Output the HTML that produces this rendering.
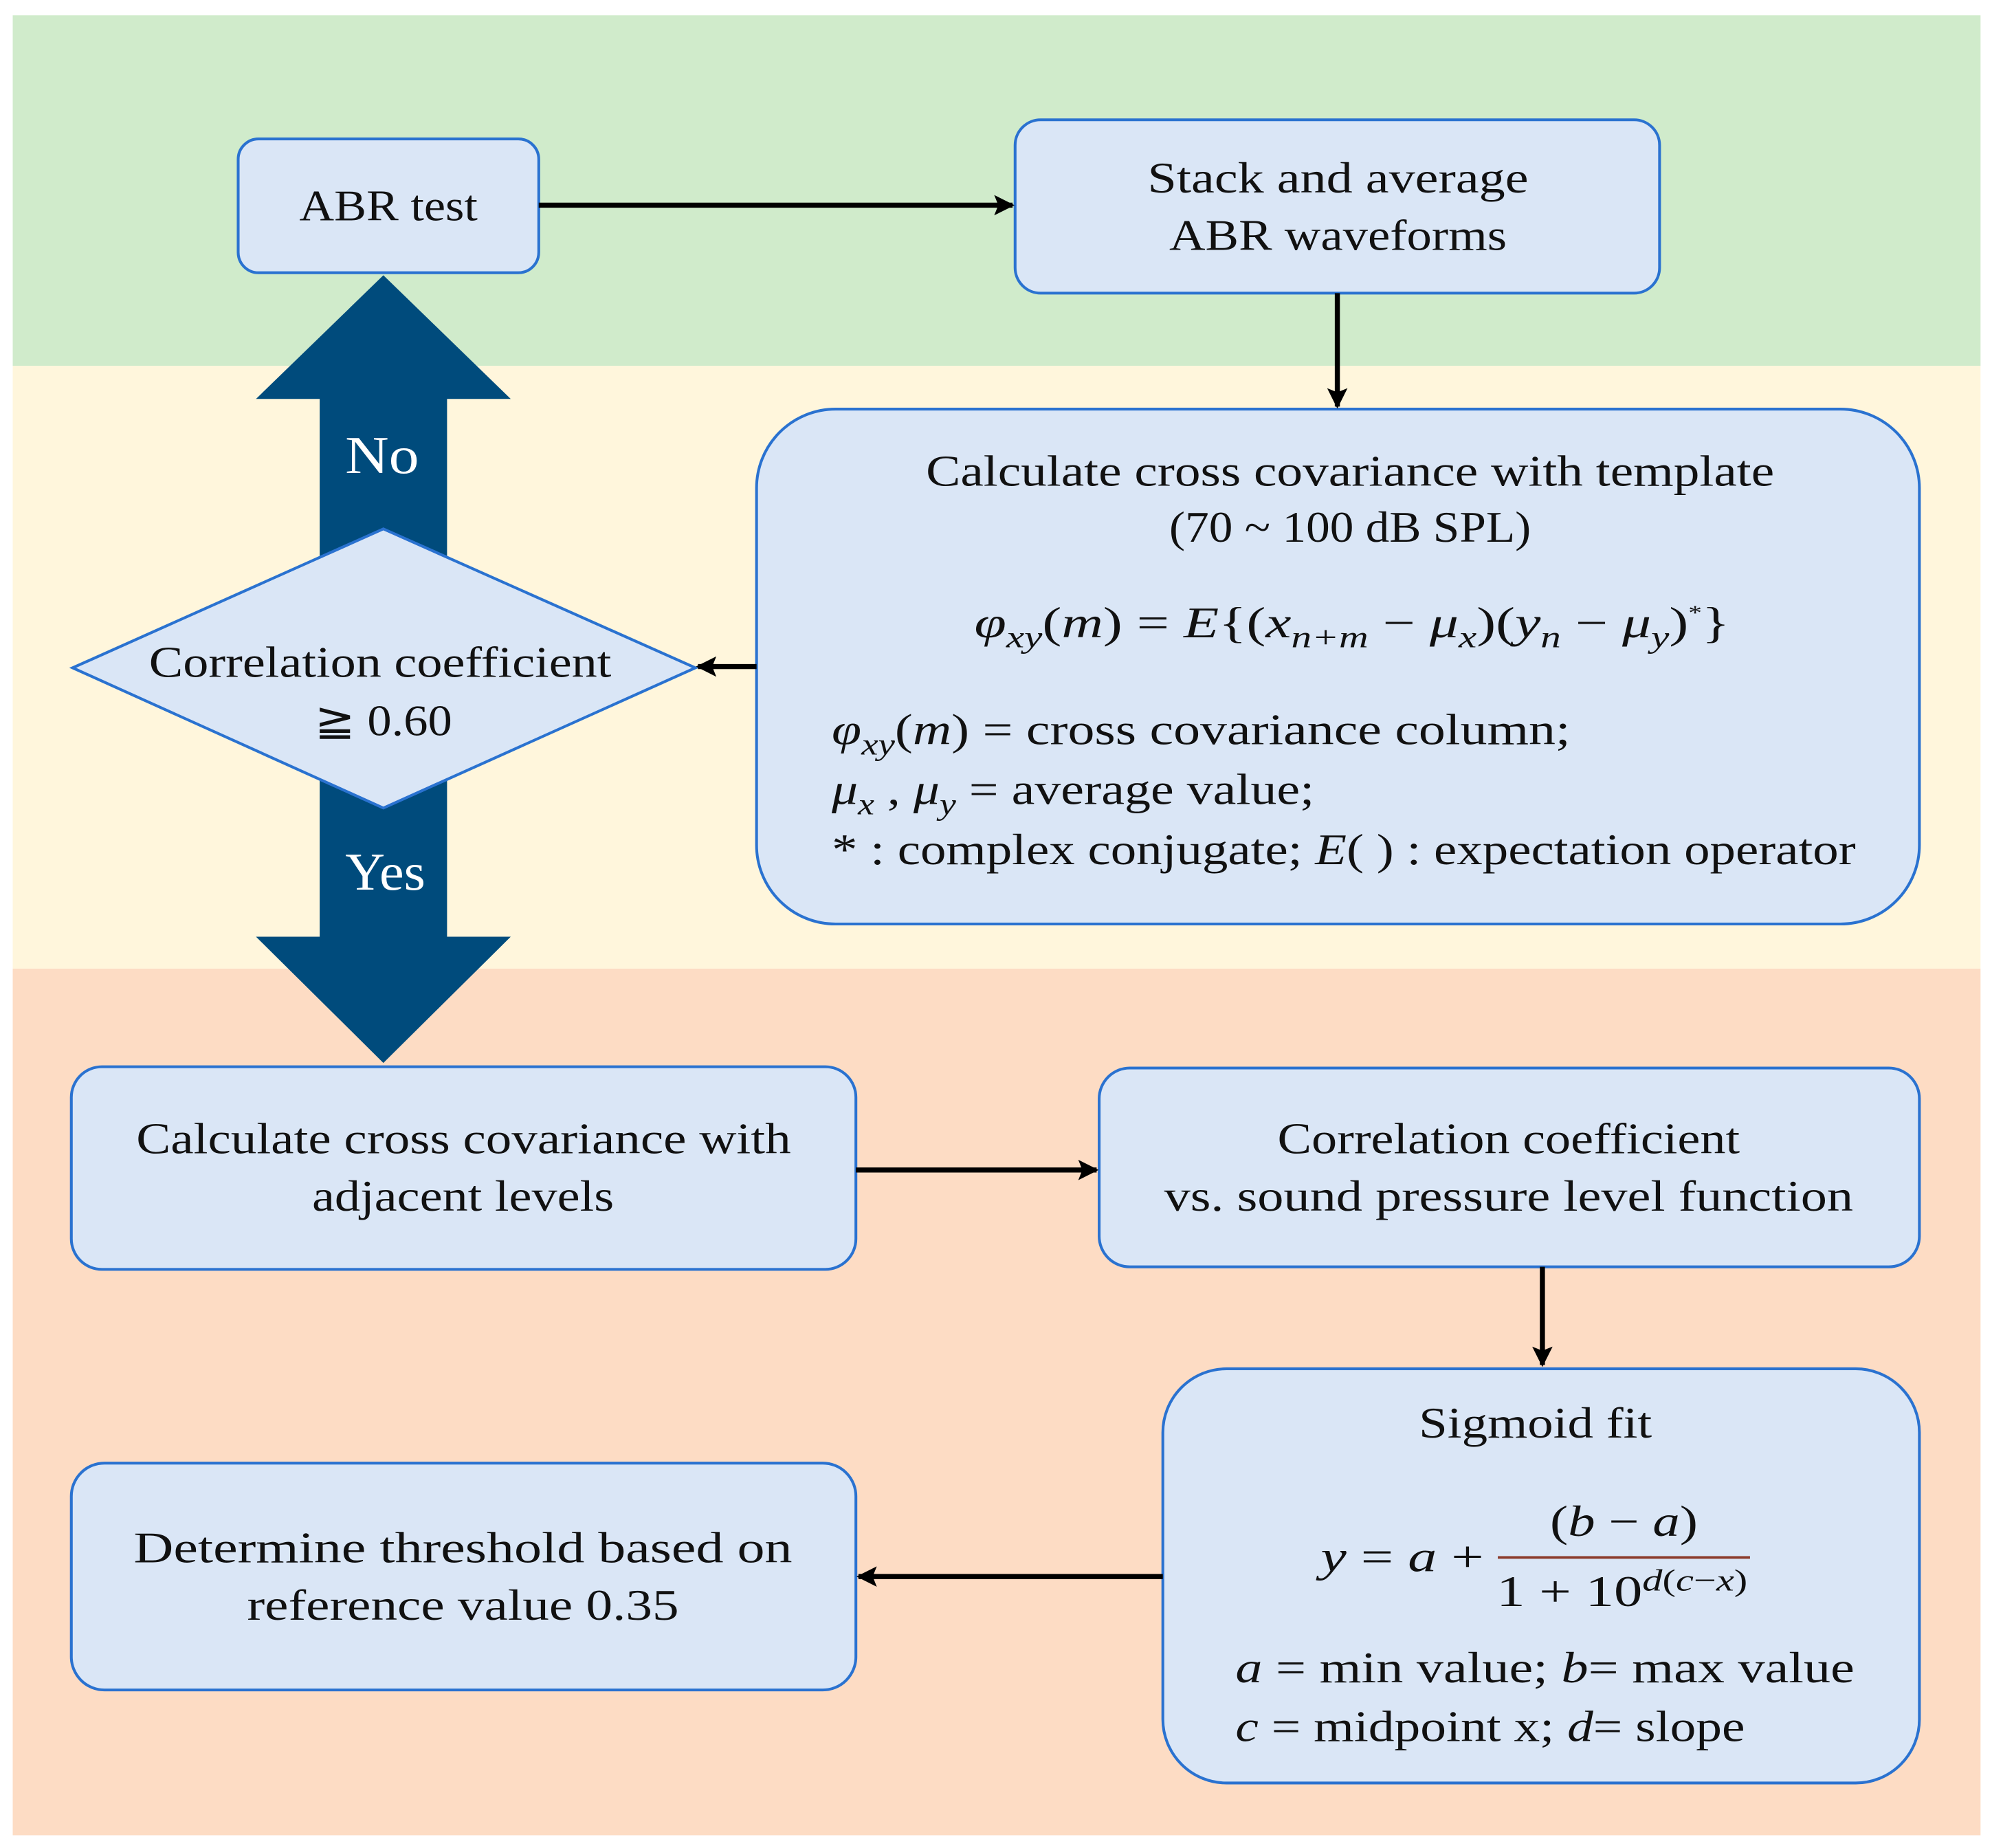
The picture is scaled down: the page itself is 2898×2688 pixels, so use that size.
<!DOCTYPE html>
<html><head><meta charset="utf-8"><style>
html,body{margin:0;padding:0;background:#fff}
svg{display:block}
text{font-family:"Liberation Serif",serif;fill:#111}
.it{font-style:italic}
</style></head><body>
<svg width="2898" height="2688" viewBox="0 0 1564 1450" preserveAspectRatio="none" xmlns="http://www.w3.org/2000/svg">
<defs>
<marker id="a2" viewBox="0 0 10 10" markerWidth="20" markerHeight="16" refX="9" refY="5" orient="auto" markerUnits="userSpaceOnUse"><path d="M0,0 L10,5 L0,10 L2,5 Z" fill="#000"/></marker>
</defs>
<rect x="10" y="12" width="1545" height="275" fill="#d0ebcb"/>
<rect x="10" y="287" width="1545" height="473" fill="#fff6dc"/>
<rect x="10" y="760" width="1545" height="680" fill="#fddcc4"/>

<g fill="#dae6f6" stroke="#2a72d0" stroke-width="2.2">
<rect x="187" y="109" width="236" height="105" rx="16"/>
<rect x="797" y="94" width="506" height="136" rx="20"/>
<rect x="594" y="321" width="913" height="404" rx="62"/>
<rect x="56" y="837" width="616" height="159" rx="24"/>
<rect x="863" y="838" width="644" height="156" rx="24"/>
<rect x="913" y="1074" width="594" height="325" rx="50"/>
<rect x="56" y="1148" width="616" height="178" rx="26"/>
</g>

<path d="M251,440 L251,313 L201,313 L301,216 L401,313 L351,313 L351,440 Z" fill="#004b7c"/>
<path d="M251,610 L251,735 L201,735 L301,834 L401,735 L351,735 L351,610 Z" fill="#004b7c"/>
<polygon points="57,524 301,415 546,524 301,634" fill="#dae6f6" stroke="#2a72d0" stroke-width="2.2"/>

<g stroke="#000" stroke-width="4" fill="none" marker-end="url(#a2)">
<line x1="423" y1="161" x2="795" y2="161"/>
<line x1="1050" y1="230" x2="1050" y2="319"/>
<line x1="594" y1="523" x2="548" y2="523"/>
<line x1="672" y1="918" x2="861" y2="918"/>
<line x1="1211" y1="994" x2="1211" y2="1071"/>
<line x1="913" y1="1237" x2="674" y2="1237"/>
</g>

<g font-size="34" lengthAdjust="spacingAndGlyphs">
<text x="235" y="173" textLength="140" lengthAdjust="spacingAndGlyphs">ABR test</text>
<text x="901" y="151" textLength="299" lengthAdjust="spacingAndGlyphs">Stack and average</text>
<text x="918" y="196" textLength="265" lengthAdjust="spacingAndGlyphs">ABR waveforms</text>
<text x="727" y="381" textLength="666" lengthAdjust="spacingAndGlyphs">Calculate cross covariance with template</text>
<text x="918" y="425" textLength="284" lengthAdjust="spacingAndGlyphs">(70 ~ 100 dB SPL)</text>
<text x="765" y="500" textLength="593" lengthAdjust="spacingAndGlyphs"><tspan class="it">φ<tspan font-size="24" dy="8">xy</tspan></tspan><tspan dy="-8">(</tspan><tspan class="it">m</tspan>) = <tspan class="it">E</tspan>{(<tspan class="it">x<tspan font-size="24" dy="8">n+m</tspan></tspan><tspan dy="-8"> − </tspan><tspan class="it">μ<tspan font-size="24" dy="8">x</tspan></tspan><tspan dy="-8">)(</tspan><tspan class="it">y<tspan font-size="24" dy="8">n</tspan></tspan><tspan dy="-8"> − </tspan><tspan class="it">μ<tspan font-size="24" dy="8">y</tspan></tspan><tspan dy="-8">)</tspan><tspan font-size="16" dy="-14">*</tspan><tspan dy="14">}</tspan></text>
<text x="117" y="531" textLength="363" lengthAdjust="spacingAndGlyphs">Correlation coefficient</text>
<text x="247" y="577" textLength="108" lengthAdjust="spacingAndGlyphs">≧ 0.60</text>
<text x="107" y="905" textLength="514" lengthAdjust="spacingAndGlyphs">Calculate cross covariance with</text>
<text x="245" y="950" textLength="237" lengthAdjust="spacingAndGlyphs">adjacent levels</text>
<text x="1003" y="905" textLength="363" lengthAdjust="spacingAndGlyphs">Correlation coefficient</text>
<text x="914" y="950" textLength="541" lengthAdjust="spacingAndGlyphs">vs. sound pressure level function</text>
<text x="1114" y="1128" textLength="183" lengthAdjust="spacingAndGlyphs">Sigmoid fit</text>
<text x="105" y="1226" textLength="517" lengthAdjust="spacingAndGlyphs">Determine threshold based on</text>
<text x="194" y="1271" textLength="339" lengthAdjust="spacingAndGlyphs">reference value 0.35</text>
<text x="1217" y="1205" textLength="116" lengthAdjust="spacingAndGlyphs">(<tspan class="it">b</tspan> − <tspan class="it">a</tspan>)</text>
<text x="1175" y="1260" textLength="197" lengthAdjust="spacingAndGlyphs">1 + 10<tspan font-size="24" dy="-12" class="it">d</tspan><tspan font-size="24">(</tspan><tspan font-size="24" class="it">c</tspan><tspan font-size="24">−</tspan><tspan font-size="24" class="it">x</tspan><tspan font-size="24">)</tspan></text>
<text x="653" y="584" textLength="580" lengthAdjust="spacingAndGlyphs"><tspan class="it">φ<tspan font-size="24" dy="8">xy</tspan></tspan><tspan dy="-8">(</tspan><tspan class="it">m</tspan>) = cross covariance column;</text>
<text x="653" y="631" textLength="379" lengthAdjust="spacingAndGlyphs"><tspan class="it">μ<tspan font-size="24" dy="8">x</tspan></tspan><tspan dy="-8"> , </tspan><tspan class="it">μ<tspan font-size="24" dy="8">y</tspan></tspan><tspan dy="-8"> = average value;</tspan></text>
<text x="653" y="678" textLength="804" lengthAdjust="spacingAndGlyphs">* : complex conjugate;  <tspan class="it">E</tspan>( ) : expectation operator</text>
<text x="1037" y="1233" textLength="128" lengthAdjust="spacingAndGlyphs"><tspan class="it">y</tspan> = <tspan class="it">a</tspan> +</text>
<text x="970" y="1320" textLength="486" lengthAdjust="spacingAndGlyphs"><tspan class="it">a</tspan> = min value;    <tspan class="it">b</tspan>= max value</text>
<text x="970" y="1366" textLength="400" lengthAdjust="spacingAndGlyphs"><tspan class="it">c</tspan> = midpoint  x;  <tspan class="it">d</tspan>= slope</text>
</g>
<g font-size="42">
<text x="271" y="371" textLength="58" lengthAdjust="spacingAndGlyphs" style="fill:#fff">No</text>
<text x="271" y="698" textLength="63" lengthAdjust="spacingAndGlyphs" style="fill:#fff">Yes</text>
</g>
<line x1="1176" y1="1222" x2="1374" y2="1222" stroke="#8b3a2a" stroke-width="2"/>
</svg>
</body></html>
